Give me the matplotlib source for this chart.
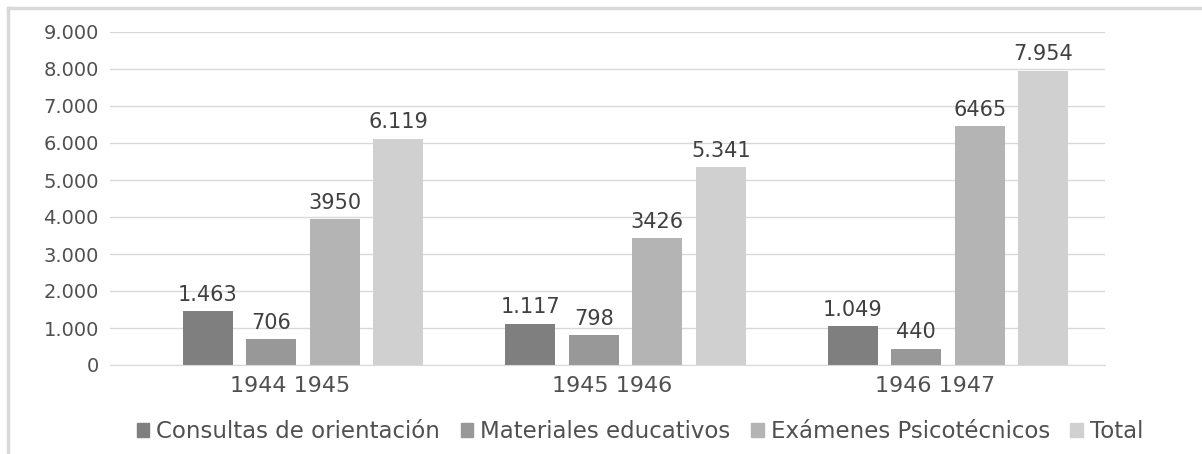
import numpy as np
import matplotlib.pyplot as plt
from matplotlib.ticker import FuncFormatter
from matplotlib.patches import Rectangle

periodos = ["1944 1945", "1945 1946", "1946 1947"]
series = ["Consultas de orientación", "Materiales educativos",
          "Exámenes Psicotécnicos", "Total"]
consultas = [1463, 1117, 1049]
materiales = [706, 798, 440]
examenes = [3950, 3426, 6465]
total = [6119, 5341, 7954]
etiquetas = [["1.463", "1.117", "1.049"],
             ["706", "798", "440"],
             ["3950", "3426", "6465"],
             ["6.119", "5.341", "7.954"]]
colores = ["#7f7f7f", "#989898", "#b4b4b4", "#d0d0d0"]

valores = [consultas, materiales, examenes, total]

fig = plt.figure(figsize=(12.02, 4.54), dpi=100)
ax = fig.add_axes([110 / 1202, 1 - 365 / 454, 995 / 1202, 333 / 454])

x = np.arange(len(periodos))
ancho = 0.155
paso = 0.197
for i, (vals, col) in enumerate(zip(valores, colores)):
    pos = x + (i - 1.5) * paso
    ax.bar(pos, vals, width=ancho, color=col, zorder=2)
    for p, v, t in zip(pos, vals, etiquetas[i]):
        ax.text(p, v + 170, t, ha="center", va="bottom", fontsize=15,
                color="#404040")

ax.set_xlim(-0.598, 2.487)
ax.set_ylim(0, 9000)
ax.set_yticks(range(0, 9001, 1000))
ax.yaxis.set_major_formatter(FuncFormatter(
    lambda v, p: f"{int(v):,}".replace(",", ".")))
ax.set_xticks(x - 0.04)
ax.set_xticklabels(periodos)
ax.tick_params(axis="both", length=0, labelsize=14, colors="#505050")
ax.tick_params(axis="x", pad=8, labelsize=16)
ax.tick_params(axis="y", pad=8)
ax.grid(axis="y", color="#d9d9d9", linewidth=1, zorder=0)
for s in ["top", "right", "left"]:
    ax.spines[s].set_visible(False)
ax.spines["bottom"].set_color("#d9d9d9")

handles = [Rectangle((0, 0), 1, 1, color=c) for c in colores]
fig.legend(handles, series, loc="center", bbox_to_anchor=(640 / 1202, 1 - 432 / 454),
           ncol=4, frameon=False, fontsize=16.5, handlelength=0.55,
           handleheight=0.55, handletextpad=0.3, columnspacing=0.9,
           labelcolor="#505050")

# marco gris del recuadro
fig.add_artist(plt.Line2D([8 / 1202, 1], [1 - 8 / 454, 1 - 8 / 454],
                          color="#d9d9d9", linewidth=2.5))
fig.add_artist(plt.Line2D([8 / 1202, 8 / 1202], [0, 1 - 8 / 454],
                          color="#d9d9d9", linewidth=2.5))

fig.savefig("out.png", dpi=100)
